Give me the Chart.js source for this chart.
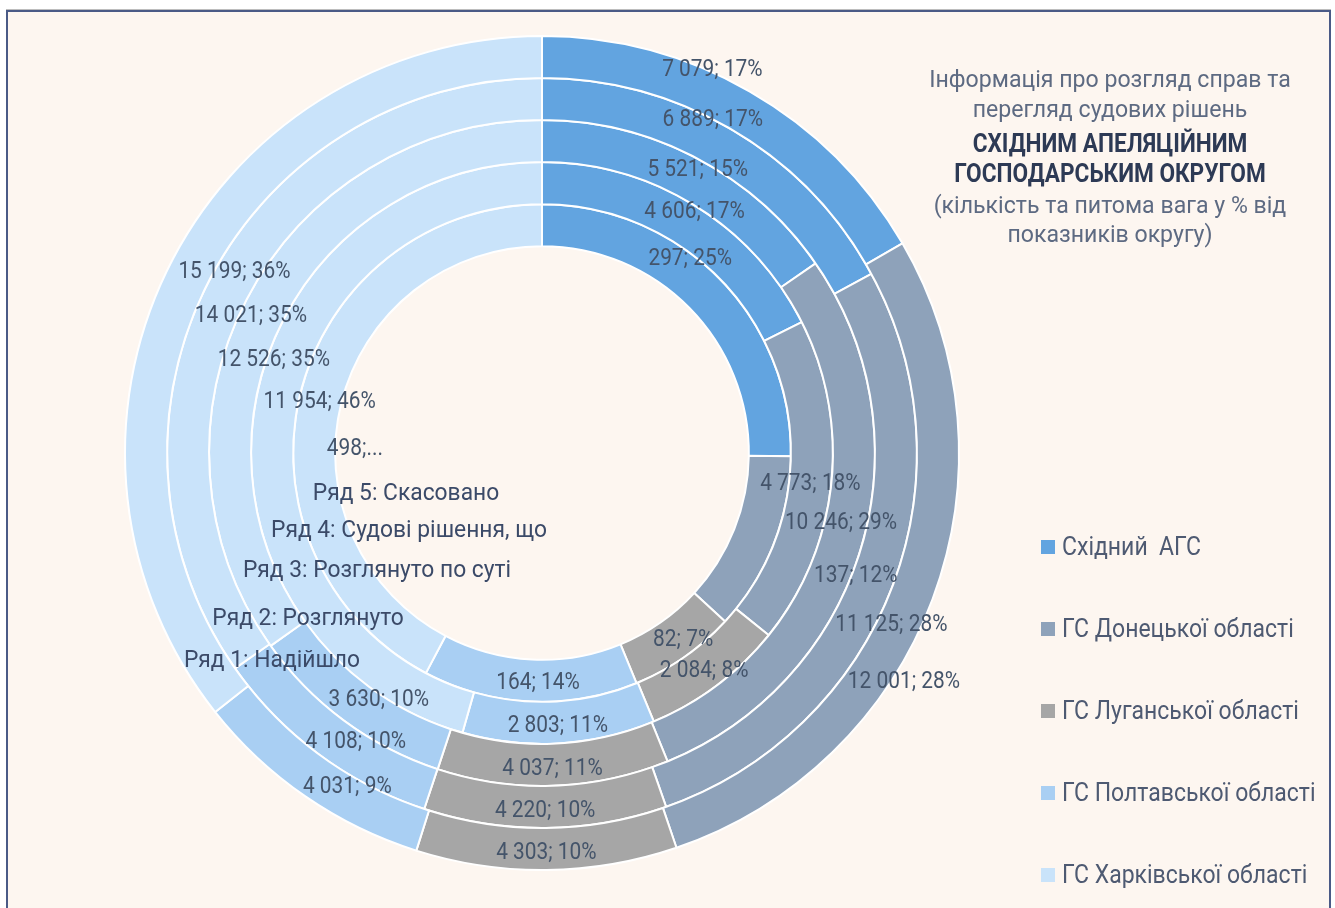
<!DOCTYPE html>
<html>
<head>
<meta charset="utf-8">
<script src="https://cdn.jsdelivr.net/npm/chart.js@4.4.0/dist/chart.umd.min.js"></script>
<style>
  html, body { margin: 0; padding: 0; background: #ffffff; }
  #frame {
    position: absolute; left: 6px; top: 10px; width: 1321px; height: 920px;
    border: 2px solid #4a5a86; border-bottom: none; background: #fdf6f0;
    box-shadow: 0 -1px 0 #bdbdbd;
  }
  #wrap { position: absolute; left: 0; top: 0; width: 1335px; height: 908px; }
</style>
</head>
<body>
<div id="frame"></div>
<div id="wrap"><canvas id="doughnutChart"></canvas></div>
<script>
// rings, outer -> inner
const seriesNames = ['Надійшло', 'Розглянуто', 'Розглянуто по суті', 'Судові рішення, що', 'Скасовано'];
const courts = ['Східний  АГС', 'ГС Донецької області', 'ГС Луганської області', 'ГС Полтавської області', 'ГС Харківської області'];

const received   = [7079, 12001, 4303, 4031, 15199];
const considered = [6889, 11125, 4220, 4108, 14021];
const onMerits   = [5521, 10246, 4037, 3630, 12526];
const appealed   = [4606, 4773, 2084, 2803, 11954];
const cancelled  = [297, 137, 82, 164, 498];

// shares (%) as printed on the labels
const receivedPct   = [17, 28, 10, 9, 36];
const consideredPct = [17, 28, 10, 10, 35];
const onMeritsPct   = [15, 29, 11, 10, 35];
const appealedPct   = [17, 18, 8, 11, 46];
const cancelledPct  = [25, 12, 7, 14, 42];

const colors = ['#62a4e0', '#8ea2ba', '#a6a6a6', '#a9cff3', '#c9e3fa'];

const ringValues = [received, considered, onMerits, appealed, cancelled];
const ringShares = [receivedPct, consideredPct, onMeritsPct, appealedPct, cancelledPct];

// label placement tweaks (px) relative to the middle of each arc
const labelNudge = [
  [[-27, -42], [-9, 88], [0, 2], [30, 5], [49, -11]],
  [[-10, -31], [19, 42], [0, 2], [25, 2], [23, 24]],
  [[11, -9], [0, -21], [0, 2], [22, -6], [9, 48]],
  [[11, -14], [0, 0], [0, 0], [0, 1], [45, -16]],
  [[-14, -36], [102, 36], [11, -3], [7, 0], [34, 48]]
];
// series name labels, offset from the chart centre
const seriesLabelOffset = [[-270, 205], [-234, 163], [-165, 115], [-133, 75], [-136, 38]];
const clipped = ['4-4'];

const FONT = 'Roboto, "Noto Sans", sans-serif';

function fmt(n) {
  return String(n).replace(/\B(?=(\d{3})+(?!\d))/g, ' ');
}

// Roboto squeezed horizontally to look like the condensed face of the original
function drawText(ctx, text, x, y, size, weight, color, align, sx) {
  ctx.save();
  ctx.font = weight + ' ' + size + 'px ' + FONT;
  ctx.fillStyle = color;
  ctx.textBaseline = 'alphabetic';
  ctx.textAlign = align || 'center';
  ctx.translate(x, y);
  ctx.scale(sx || 0.87, 1);
  ctx.fillText(text, 0, 0);
  ctx.restore();
}

const ringLabels = {
  id: 'ringLabels',
  afterDatasetsDraw(chart) {
    const ctx = chart.ctx;
    chart.data.datasets.forEach((ds, i) => {
      const meta = chart.getDatasetMeta(i);
      let cx = 0, cy = 0;
      meta.data.forEach((arc, j) => {
        const p = arc.getProps(['x', 'y', 'startAngle', 'endAngle', 'innerRadius', 'outerRadius'], true);
        cx = p.x; cy = p.y;
        const a = (p.startAngle + p.endAngle) / 2;
        const r = (p.innerRadius + p.outerRadius) / 2;
        const x = p.x + Math.cos(a) * r + labelNudge[i][j][0];
        const y = p.y + Math.sin(a) * r + labelNudge[i][j][1];
        let txt = fmt(ds.data[j]) + '; ' + ds.shares[j] + '%';
        if (clipped.includes(i + '-' + j)) txt = fmt(ds.data[j]) + ';...';
        drawText(ctx, txt, x, y + 8.5, 24, 400, '#44546a');
      });
      const off = seriesLabelOffset[i];
      drawText(ctx, 'Ряд ' + (i + 1) + ': ' + ds.label, cx + off[0], cy + off[1] + 8.5, 24, 400, '#3b4a68', 'center', 0.95);
    });
  }
};

const titleLines = [
  ['Інформація про розгляд справ та', false],
  ['перегляд судових рішень', false],
  ['СХІДНИМ АПЕЛЯЦІЙНИМ', true],
  ['ГОСПОДАРСЬКИМ ОКРУГОМ', true],
  ['(кількість та питома вага у % від', false],
  ['показників округу)', false]
];
const titleBaselines = [87, 117, 152, 182, 213, 242];

const sideText = {
  id: 'sideText',
  afterDraw(chart) {
    const ctx = chart.ctx;
    titleLines.forEach((l, i) => {
      if (l[1]) drawText(ctx, l[0], 1110, titleBaselines[i], 25, 700, '#2d3a55', 'center', 0.905);
      else drawText(ctx, l[0], 1110, titleBaselines[i], 24, 400, '#5d6a82', 'center', 0.963);
    });
    chart.data.labels.forEach((name, i) => {
      const y = 540 + i * 82;
      ctx.fillStyle = colors[i];
      ctx.fillRect(1041, y, 14, 14);
      drawText(ctx, name, 1062, y + 15, 25, 400, '#4e5a72', 'left', 0.92);
    });
  }
};

const ctx = document.getElementById('doughnutChart').getContext('2d');
new Chart(ctx, {
  type: 'doughnut',
  data: {
    labels: courts,
    datasets: ringValues.map((vals, i) => ({
      label: seriesNames[i],
      data: vals,
      shares: ringShares[i],
      backgroundColor: colors,
      borderColor: '#ffffff',
      borderWidth: 2,
      hoverOffset: 0
    }))
  },
  options: {
    responsive: true,
    maintainAspectRatio: false,
    animation: false,
    events: [],
    radius: 417,
    cutout: '49.6%',
    layout: { padding: { left: 100, right: 351, top: 0, bottom: 2 } },
    plugins: {
      legend: { display: false },
      tooltip: { enabled: false }
    }
  },
  plugins: [ringLabels, sideText]
});
</script>
</body>
</html>
